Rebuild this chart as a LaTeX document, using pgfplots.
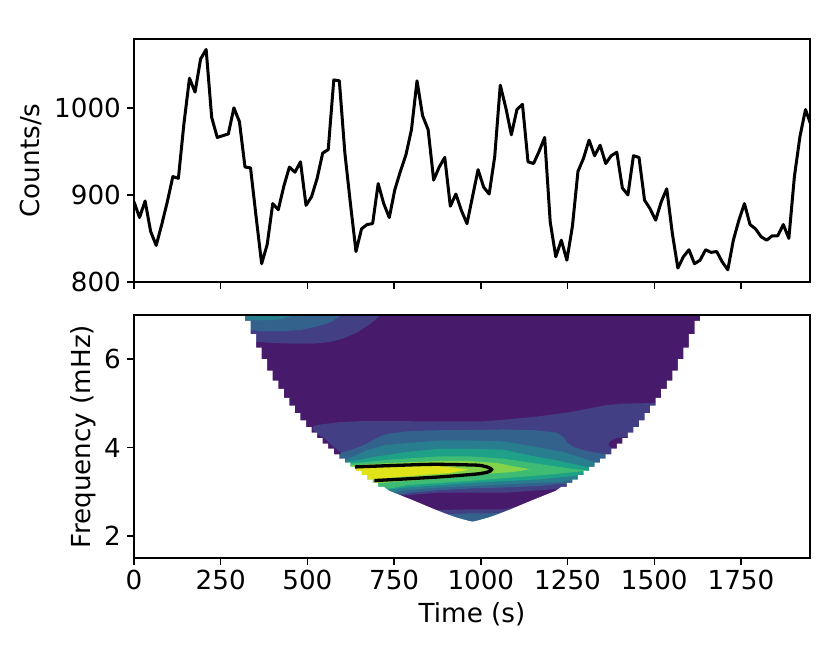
\documentclass[border=0pt]{standalone}
\usepackage{fontspec}
\setmainfont{DejaVu Sans}
\usepackage{pgfplots}
\pgfplotsset{compat=1.18}

\definecolor{v1}{HTML}{481A6C}
\definecolor{v2}{HTML}{423F85}
\definecolor{v3}{HTML}{33638D}
\definecolor{v4}{HTML}{287D8E}
\definecolor{v5}{HTML}{1FA187}
\definecolor{v6}{HTML}{3FBC73}
\definecolor{v7}{HTML}{84D44B}
\definecolor{v8}{HTML}{DFE318}

\newcommand{\lab}{\fontsize{26.3}{30}\selectfont}

\pgfplotsset{
  panel/.style={
    scale only axis, width=676bp, height=243bp,
    anchor=south west,
    xmin=0, xmax=1949,
    xtick={0,250,...,1750},
    tick align=outside,
    major tick length=6.6bp,
    every tick/.style={black, line width=1.5bp},
    axis line style={black, line width=1.5bp},
    tick pos=left,
    tick label style={font=\lab},
    /pgf/number format/assume math mode=true,
    /pgf/number format/set thousands separator={},
    xticklabel style={yshift=-2bp},
    yticklabel style={xshift=-3bp},
  },
}

\begin{document}
\begin{tikzpicture}
\useasboundingbox (-134bp,-91bp) rectangle (696bp,558bp);

% light curve
\begin{axis}[panel, at={(0bp,276bp)},
  ymin=800, ymax=1079, ytick={800,900,1000},
  xticklabels={},
  ylabel={Counts/s},
  every axis y label/.style={at={(axis description cs:-0.1524,0.5)}, rotate=90, anchor=center, font=\lab},
]
\addplot[black, line width=3bp, line join=round] table {
0 892
16 874
32 893
48 858
64 842
80 866
96 892
112 921
128 919
144 982
160 1034
176 1018
192 1056
208 1067
224 989
240 966
256 968
272 970
288 1000
304 984
320 932
336 931
352 875
368 821
384 843
400 890
416 883
432 910
448 932
464 926
480 938
496 888
512 898
528 919
544 948
560 952
576 1032
592 1031
608 948
624 890
640 835
656 861
672 866
688 867
704 913
720 890
736 874
752 906
768 927
784 946
800 975
816 1031
832 991
848 975
864 917
880 932
896 943
912 887
928 901
944 882
960 867
976 898
992 929
1008 909
1024 901
1040 944
1056 1026
1072 1000
1088 969
1104 998
1120 1004
1136 938
1152 936
1168 950
1184 966
1200 869
1216 829
1232 848
1248 825
1264 864
1280 927
1296 942
1312 963
1328 945
1344 957
1360 936
1376 945
1392 949
1408 908
1424 900
1440 945
1456 943
1472 894
1488 884
1504 871
1520 892
1536 907
1552 856
1568 816
1584 829
1600 837
1616 821
1632 825
1648 837
1664 834
1680 835
1696 823
1712 814
1728 848
1744 871
1760 890
1776 866
1792 861
1808 852
1824 848
1840 853
1856 853
1872 866
1888 850
1904 921
1920 967
1936 998
1952 980
};
\end{axis}

% wavelet power, filled contour levels
\begin{axis}[panel, at={(0bp,0bp)}, axis on top,
  ymin=1.5, ymax=7, ytick={2,4,6},
  xlabel={Time (s)}, ylabel={Frequency (mHz)},
  every axis y label/.style={at={(axis description cs:-0.0754,0.5)}, rotate=90, anchor=center, font=\lab},
  every axis x label/.style={at={(axis description cs:0.5,-0.23)}, anchor=center, font=\lab},
]
\addplot[draw=none, fill=v1] coordinates {(300,2.3)(1660,2.3)(1660,7)(300,7)} --cycle;

% upper left corner
\addplot[draw=none, fill=v2] coordinates {(300,7)(712,7)(680,6.79)(642,6.60)(604,6.47)(565,6.39)(517,6.35)(469,6.35)(421,6.36)(352,6.39)(300,6.39)} --cycle;
\addplot[draw=none, fill=v3] coordinates {(300,7)(600,7)(565,6.83)(527,6.74)(479,6.66)(421,6.63)(373,6.63)(336,6.66)(300,6.68)} --cycle;
\addplot[draw=none, fill=v4] coordinates {(300,7)(465,7)(421,6.90)(373,6.88)(334,6.89)(300,6.93)} --cycle;

% ridge
\addplot[draw=none, fill=v2] coordinates {(515,4.41)(517,4.485)(536,4.52)(594,4.575)(661,4.60)(757,4.60)(853,4.59)(998,4.59)(1065,4.63)(1161,4.70)(1257,4.80)(1353,4.95)(1401,4.99)(1502,5.01)(1560,5.01)(1560,3.2)(1260,3.1)(1200,3.05)(1075,2.98)(882,2.98)(781,2.92)(700,2.85)(610,3.7)(594,3.9)(565,4.09)(551,4.2)(529,4.31)} --cycle;
\addplot[draw=none, fill=v1] coordinates {(1430,4.25)(1392,4.215)(1373,4.14)(1368,4.065)(1377,3.99)(1397,3.94)(1421,4.0)} --cycle;
\addplot[draw=none, fill=v3] coordinates {(590,3.80)(599,3.885)(637,3.975)(671,4.087)(700,4.22)(729,4.31)(786,4.365)(853,4.39)(998,4.40)(1065,4.41)(1161,4.39)(1219,4.335)(1238,4.24)(1248,4.12)(1267,4.01)(1305,3.92)(1358,3.85)(1400,3.8)(1400,3.2)(1300,3.18)(1219,3.17)(1161,3.126)(1065,3.096)(969,3.073)(882,3.036)(796,2.975)(777,2.945)(720,2.9)} --cycle;
\addplot[draw=none, fill=v4] coordinates {(600,3.70)(618,3.75)(671,3.937)(719,4.05)(786,4.10)(882,4.16)(969,4.16)(1065,4.14)(1161,4.01)(1238,3.90)(1329,3.67)(1380,3.5)(1300,3.3)(1228,3.22)(1161,3.2)(1065,3.163)(969,3.126)(882,3.096)(786,3.036)(757,2.998)(720,2.98)} --cycle;
\addplot[draw=none, fill=v5] coordinates {(600,3.6)(613,3.67)(690,3.786)(786,3.90)(882,3.974)(969,3.974)(1065,3.95)(1142,3.82)(1219,3.71)(1296,3.576)(1360,3.45)(1300,3.4)(1248,3.336)(1161,3.276)(1065,3.238)(969,3.2)(882,3.148)(786,3.096)(738,3.05)(700,3.05)} --cycle;
\addplot[draw=none, fill=v6] coordinates {(610,3.6)(623,3.636)(738,3.726)(882,3.80)(969,3.80)(1065,3.749)(1161,3.636)(1257,3.524)(1301,3.486)(1310,3.48)(1209,3.396)(1113,3.336)(1017,3.276)(969,3.246)(882,3.2)(786,3.148)(738,3.073)(700,3.1)} --cycle;
\addplot[draw=none, fill=v7] coordinates {(620,3.58)(632,3.6)(738,3.651)(882,3.696)(969,3.696)(1046,3.651)(1094,3.576)(1142,3.509)(1094,3.448)(1027,3.411)(969,3.358)(882,3.298)(786,3.246)(719,3.2)(690,3.2)} --cycle;
\addplot[draw=none, fill=v8] coordinates {(625,3.54)(637,3.538)(738,3.576)(863,3.6)(964,3.5)(911,3.426)(786,3.35)(690,3.276)(625,3.28)} --cycle;

% bottom tip
\addplot[draw=none, fill=v2] coordinates {(840,2.58)(969,2.60)(1065,2.60)(1094,2.645)(1120,2.65)(1120,2.3)(840,2.3)} --cycle;
\addplot[draw=none, fill=v3] coordinates {(900,2.49)(921,2.495)(969,2.51)(1027,2.51)(1055,2.525)(1080,2.53)(1080,2.3)(900,2.3)} --cycle;

% outside the cone of influence
\addplot[draw=none, fill=white] coordinates {(0,1.5)(0,7)(320,7)(320,6.865)(336,6.865)(336,6.565)(352,6.565)(352,6.264)(368,6.264)(368,6.00)(384,6.00)(384,5.74)(400,5.74)(400,5.514)(416,5.514)(416,5.326)(432,5.326)(432,5.123)(448,5.123)(448,4.95)(464,4.95)(464,4.778)(480,4.778)(480,4.613)(496,4.613)(496,4.463)(512,4.463)(512,4.335)(528,4.335)(528,4.215)(544,4.215)(544,4.087)(560,4.087)(560,3.975)(576,3.975)(576,3.847)(592,3.847)(592,3.749)(608,3.749)(608,3.659)(624,3.659)(624,3.562)(640,3.562)(640,3.472)(656,3.472)(656,3.374)(672,3.374)(672,3.276)(688,3.276)(688,3.2)(704,3.2)(704,3.11)(720,3.11)(736,3.02)(800,2.82)(864,2.61)(896,2.51)(928,2.42)(960,2.35)(976,2.32)(984,2.32)(984,1.5)} --cycle;
\addplot[draw=none, fill=white] coordinates {(1949,1.5)(1949,7)(1632,7)(1632,6.865)(1616,6.865)(1616,6.565)(1600,6.565)(1600,6.264)(1584,6.264)(1584,6.00)(1568,6.00)(1568,5.74)(1552,5.74)(1552,5.514)(1536,5.514)(1536,5.326)(1520,5.326)(1520,5.123)(1504,5.123)(1504,4.95)(1488,4.95)(1488,4.778)(1472,4.778)(1472,4.613)(1456,4.613)(1456,4.463)(1440,4.463)(1440,4.335)(1424,4.335)(1424,4.215)(1408,4.215)(1408,4.087)(1392,4.087)(1392,3.975)(1376,3.975)(1376,3.847)(1360,3.847)(1360,3.749)(1344,3.749)(1344,3.659)(1328,3.659)(1328,3.562)(1312,3.562)(1312,3.472)(1296,3.472)(1296,3.374)(1280,3.374)(1280,3.276)(1264,3.276)(1264,3.2)(1248,3.2)(1248,3.11)(1232,3.11)(1216,3.02)(1152,2.82)(1088,2.61)(1056,2.51)(1024,2.42)(992,2.35)(976,2.32)(968,2.32)(968,1.5)} --cycle;

% significance contour
\addplot[black, line width=3.3bp, smooth, tension=0.5] coordinates {(637,3.561)(738,3.591)(863,3.62)(969,3.606)(998,3.595)(1022,3.55)(1031,3.5)(1022,3.45)(998,3.411)(969,3.388)(882,3.336)(786,3.291)(693,3.253)};
\end{axis}
\end{tikzpicture}
\end{document}
